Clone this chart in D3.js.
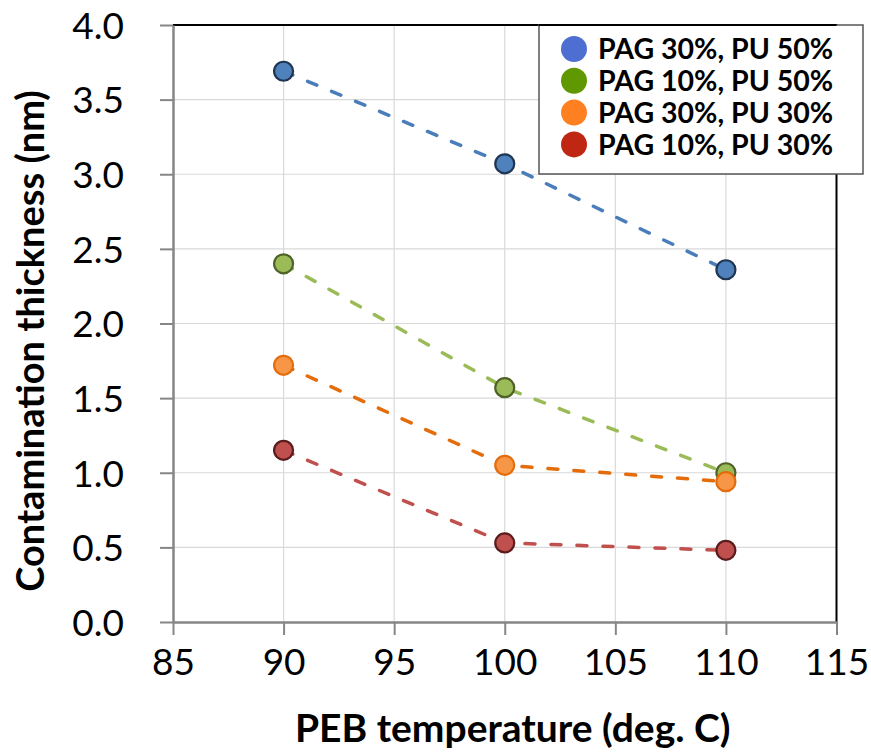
<!DOCTYPE html>
<html>
<head>
<meta charset="utf-8">
<script src="https://cdn.jsdelivr.net/npm/d3@7"></script>
<style>
  body { margin: 0; background: #fff; }
  svg { display: block; }
</style>
</head>
<body>
<svg width="871" height="752"></svg>
<script>
// data
var temps = [90, 100, 110];
var seriesNames = ["PAG 30%, PU 50%", "PAG 10%, PU 50%", "PAG 30%, PU 30%", "PAG 10%, PU 30%"];
var pag30pu50 = [3.69, 3.07, 2.36];
var pag10pu50 = [2.40, 1.57, 1.00];
var pag30pu30 = [1.72, 1.05, 0.94];
var pag10pu30 = [1.15, 0.53, 0.48];
var xTicks = [85, 90, 95, 100, 105, 110, 115];
var yTicks = [0, 0.5, 1, 1.5, 2, 2.5, 3, 3.5, 4];

var allSeries = [pag30pu50, pag10pu50, pag30pu30, pag10pu30];
var lineColors = ["#4a7ebb", "#9bbb59", "#e46c0a", "#c0504d"];
var fillColors = ["#4f81bd", "#9bbb59", "#f79646", "#c0504d"];
var edgeColors = ["#1f3552", "#4f6228", "#e46c0a", "#5a1c1c"];
var legendColors = ["#4e6fd1", "#5f9800", "#ff8020", "#bf2712"];

var svg = d3.select("svg");
var plotLeft = 173, plotRight = 836.5, plotTop = 25, plotBottom = 622;
var font = "Lato, 'Open Sans', sans-serif";

var x = d3.scaleLinear().domain([85, 115]).range([plotLeft, plotRight]);
var y = d3.scaleLinear().domain([0, 4]).range([plotBottom, plotTop]);

// grid lines
svg.append("g")
    .selectAll("line")
    .data(xTicks.slice(1, -1))
    .enter()
    .append("line")
    .attr("x1", function (d) { return x(d); })
    .attr("x2", function (d) { return x(d); })
    .attr("y1", plotTop)
    .attr("y2", plotBottom)
    .style("stroke", "#d9d9d9")
    .style("stroke-width", 1.2);
svg.append("g")
    .selectAll("line")
    .data(yTicks.slice(1, -1))
    .enter()
    .append("line")
    .attr("x1", plotLeft)
    .attr("x2", plotRight)
    .attr("y1", function (d) { return y(d); })
    .attr("y2", function (d) { return y(d); })
    .style("stroke", "#d9d9d9")
    .style("stroke-width", 1.2);

// top and right frame
svg.append("path")
    .attr("d", "M" + plotLeft + "," + plotTop + "H" + plotRight + "V" + plotBottom)
    .style("fill", "none")
    .style("stroke", "#000")
    .style("stroke-width", 2);

// axes
var xAxis = svg.append("g")
    .attr("transform", "translate(0," + plotBottom + ")")
    .call(d3.axisBottom(x).tickValues(xTicks).tickSize(13).tickPadding(13).tickSizeOuter(0));
var yAxis = svg.append("g")
    .attr("transform", "translate(" + plotLeft + ",0)")
    .call(d3.axisLeft(y).tickValues(yTicks).tickSize(13).tickPadding(36)
        .tickFormat(d3.format(".1f")).tickSizeOuter(0));

[xAxis, yAxis].forEach(function (ax) {
    ax.select(".domain").style("stroke", "#868686").style("stroke-width", 2.5);
    ax.selectAll(".tick line").style("stroke", "#868686").style("stroke-width", 2);
    ax.selectAll(".tick text")
        .style("font-family", font)
        .style("font-size", "37px")
        .style("fill", "#000");
});
yAxis.selectAll(".tick text").attr("dy", "0.36em");
xAxis.selectAll(".tick text").attr("dy", "0.72em");

// dashed lines
var line = d3.line()
    .x(function (d, i) { return x(temps[i]); })
    .y(function (d) { return y(d); });

svg.append("g")
    .selectAll("path")
    .data(allSeries)
    .enter()
    .append("path")
    .attr("d", line)
    .style("fill", "none")
    .style("stroke", function (d, i) { return lineColors[i]; })
    .style("stroke-width", 3.5)
    .style("stroke-dasharray", "10,16")
    .style("stroke-linecap", "round");

// markers
allSeries.forEach(function (s, k) {
    svg.append("g")
        .selectAll("circle")
        .data(s)
        .enter()
        .append("circle")
        .attr("cx", function (d, i) { return x(temps[i]); })
        .attr("cy", function (d) { return y(d); })
        .attr("r", 9.5)
        .style("fill", fillColors[k])
        .style("stroke", edgeColors[k])
        .style("stroke-width", 2.2);
});

// axis titles
svg.append("text")
    .attr("x", (plotLeft + plotRight) / 2 + 8)
    .attr("y", 742)
    .attr("text-anchor", "middle")
    .style("font-family", font)
    .style("font-weight", "bold")
    .style("font-size", "39px")
    .text("PEB temperature (deg. C)");
svg.append("text")
    .attr("transform", "translate(44,341) rotate(-90)")
    .attr("text-anchor", "middle")
    .style("font-family", font)
    .style("font-weight", "bold")
    .style("font-size", "38px")
    .text("Contamination thickness (nm)");

// legend
var legendX = 539, legendY = 25;
var legend = svg.append("g");
legend.append("rect")
    .attr("x", legendX)
    .attr("y", legendY)
    .attr("width", 324)
    .attr("height", 149)
    .style("fill", "#fff")
    .style("stroke", "#555")
    .style("stroke-width", 1.5);
legend.selectAll("circle")
    .data(seriesNames)
    .enter()
    .append("circle")
    .attr("cx", legendX + 35)
    .attr("cy", function (d, i) { return legendY + 24 + 31.8 * i; })
    .attr("r", 13)
    .style("fill", function (d, i) { return legendColors[i]; });
legend.selectAll("text")
    .data(seriesNames)
    .enter()
    .append("text")
    .attr("x", legendX + 59)
    .attr("y", function (d, i) { return legendY + 24 + 31.8 * i; })
    .attr("dy", "0.36em")
    .style("font-family", font)
    .style("font-weight", "bold")
    .style("font-size", "28.5px")
    .text(function (d) { return d; });
svg.append("line")
    .attr("x1", legendX)
    .attr("x2", plotRight)
    .attr("y1", plotTop)
    .attr("y2", plotTop)
    .style("stroke", "#000")
    .style("stroke-width", 2);
</script>
</body>
</html>
